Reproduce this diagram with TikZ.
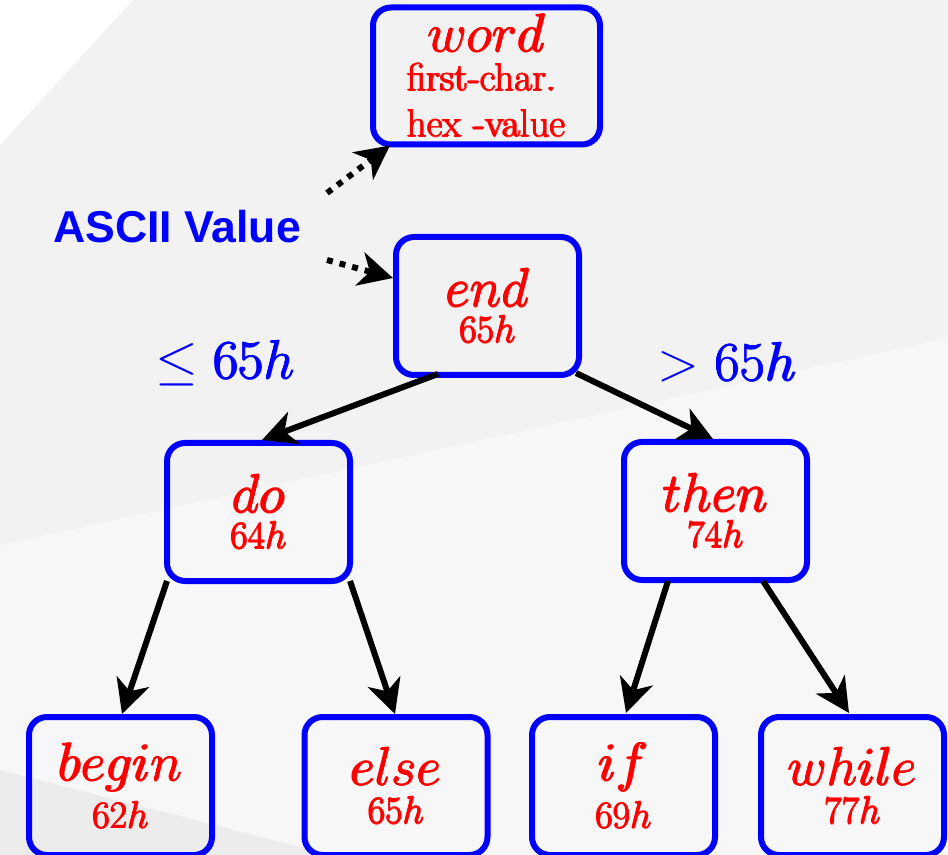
\RequirePackage{fix-cm}
\documentclass[tikz,border=0pt]{standalone}
\usepackage{fontspec}
\newfontfamily\asciifont{Liberation Sans}
\usetikzlibrary{arrows.meta,calc}
\definecolor{bgmain}{HTML}{F2F2F2}
\definecolor{bglight}{HTML}{F7F7F7}
\definecolor{bgdark}{HTML}{ECECEC}
\definecolor{kblue}{RGB}{0,0,255}
\definecolor{kred}{RGB}{255,0,0}
% heavier text by overprinting
\newcommand\fb[1]{\leavevmode
  \rlap{\smash{\kern-.35pt\hbox{#1}}}%
  \rlap{\smash{\kern.35pt\hbox{#1}}}%
  \rlap{\smash{\raise.35pt\hbox{#1}}}%
  \rlap{\smash{\lower.35pt\hbox{#1}}}%
  \hbox{#1}}
\newcommand\kwtext[3]{\begin{tabular}[t]{@{}c@{}}\fontsize{27}{27}\selectfont\fb{$#1$}\\[#3]\fontsize{19}{19}\selectfont\fb{$#2$}\end{tabular}}
\newcommand\kwbox[5]{\node[kbox] (#1) at (#2) {\kwtext{#3}{#4}{#5}};}
\begin{document}
\begin{tikzpicture}[x=0.5pt,y=-0.5pt,
  kbox/.style={draw=kblue,line width=3pt,rounded corners=9pt,minimum width=91.5pt,minimum height=69pt,inner sep=0pt,outer sep=0pt,text=kred,font=\fontsize{1}{1}\selectfont},
  lbl/.style={text=kblue,anchor=base,inner sep=0pt,font=\fontsize{27.5}{32}\selectfont},
  link/.style={draw=black,line width=3pt,-{Stealth[length=17pt,width=17pt,inset=5pt]}},
  dlink/.style={link,dash pattern=on 3pt off 3.5pt},
]
\useasboundingbox (0,0) rectangle (948,855);
% background
\fill[bgmain] (0,0) rectangle (948,855);
\fill[white] (0,0) -- (133,0) -- (0,145) -- cycle;
\fill[bglight] (0,545) -- (948,338) -- (948,855) -- (0,855) -- cycle;
\fill[bgdark] (0,770) -- (331,855) -- (0,855) -- cycle;

% top box
\node[kbox,minimum width=113.5pt,minimum height=68.5pt] (nword) at (486.5,76) {%
  \begin{tabular}[t]{@{}l@{}}
  \multicolumn{1}{@{}c@{}}{\fontsize{27}{27}\selectfont\fb{$word$}}\\[5.5pt]
  \fontsize{19.5}{19.5}\selectfont\fb{first-char.}\\[9.2pt]
  \fontsize{19.5}{19.5}\selectfont\fb{hex -value}
  \end{tabular}};

% tree
\kwbox{nend}{487.5,306}{end}{65h}{4.5pt}
\kwbox{ndo}{258.5,512}{do}{64h}{4.5pt}
\kwbox{nthen}{715.5,511}{then}{74h}{4.5pt}
\kwbox{nbegin}{120.5,786}{begin}{62h}{10.25pt}
\kwbox{nelse}{396,786}{else}{65h}{5.75pt}
\kwbox{nif}{623.5,786}{if}{69h}{10.25pt}
\kwbox{nwhile}{852.5,786}{while}{77h}{5.75pt}

% labels
\node[anchor=base,text=kblue,inner sep=0pt,font=\asciifont\bfseries\fontsize{22.3}{26}\selectfont] (ascii) at (177,243) {ASCII Value};
\node[lbl] (lle) at (225,379) {$\leq$\fb{$\mathord{}\;65h$}};
\node[lbl] (lgt) at (727,381) {$>$\fb{$\mathord{}\;65h$}};

% connectors
\coordinate (d1s) at (327,193);
\coordinate (d2s) at (327,260);
\draw[dlink] (d1s) -- ($(nword.south west)+(17,1)$);
\draw[dlink] (d2s) -- ($(nend.west)+(-3,-28)$);
\draw[link] ($(nend.south)+(-49.5,-1)$) -- ($(ndo.north)+(3.5,-3)$);
\draw[link] ($(nend.south east)+(-3,-2)$) -- ($(nthen.north)+(-2.5,-3)$);
\draw[link] (ndo.south west) -- ($(nbegin.north)+(1.5,-3)$);
\draw[link] (ndo.south east) -- ($(nelse.north)+(-1,-3)$);
\draw[link] ($(nthen.south)+(-47.5,1)$) -- ($(nif.north)+(2.5,-4)$);
\draw[link] ($(nthen.south)+(47.5,1)$) -- ($(nwhile.north)+(-3.5,-4)$);
\end{tikzpicture}
\end{document}
